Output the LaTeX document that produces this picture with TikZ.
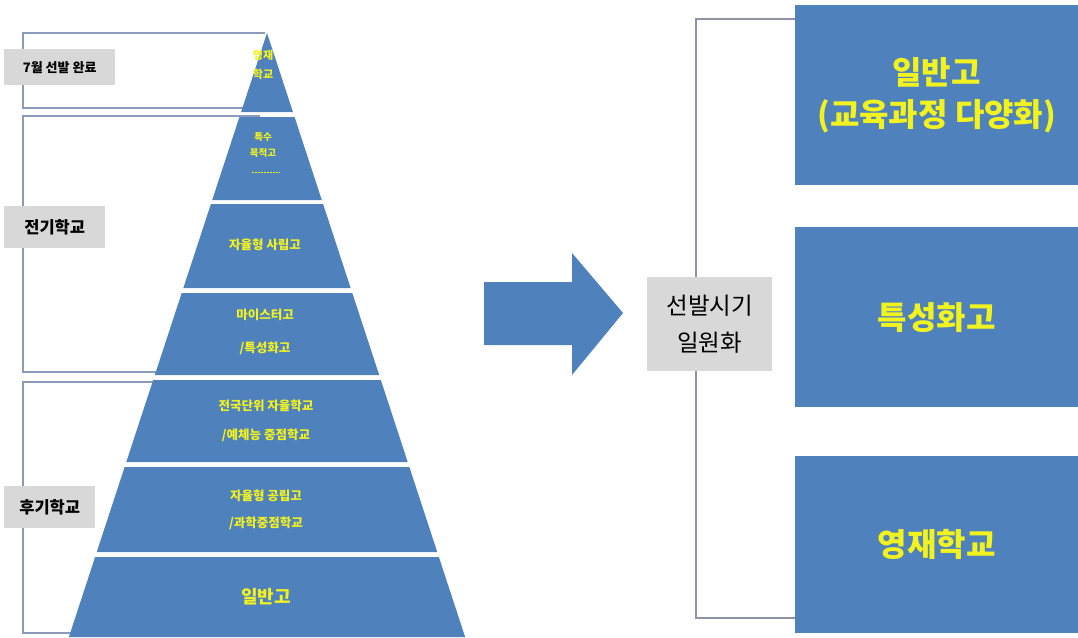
\documentclass[tikz,border=0pt]{standalone}
\usepackage{fontspec}
\setmainfont{Noto Sans CJK KR}
\definecolor{pblue}{RGB}{79,129,189}
\definecolor{tyellow}{RGB}{242,242,30}
\definecolor{lgray}{RGB}{216,216,216}
\definecolor{bline}{RGB}{140,155,185}
\tikzset{
  seg/.style={fill=pblue,draw=none},
  ptext/.style={text=tyellow,font=\bfseries\fontsize{12}{14}\selectfont,align=center,inner sep=0pt},
  lbl/.style={fill=lgray,text=black,font=\bfseries,inner sep=0pt,anchor=north west},
  rbox/.style={fill=pblue,draw=none,anchor=north west,minimum width=283pt,minimum height=180pt,inner sep=0pt,text=tyellow,font=\bfseries\fontsize{32}{42}\selectfont,align=center},
  brk/.style={draw=bline,line width=1.5pt}
}
\begin{document}
\begin{tikzpicture}[x=1pt,y=-1pt]
\useasboundingbox[fill=white] (0,0) rectangle (1078,637);
% left brackets (behind pyramid)
\draw[brk] (265,33) -- (23,33) -- (23,108) -- (260,108);
\draw[brk] (260,116) -- (23,116) -- (23,372) -- (200,372);
\draw[brk] (200,382) -- (23,382) -- (23,633) -- (150,633);
% pyramid
\foreach \a/\b in {33/112,117/200,204/288,293/375,380/462,467/552,557/637}{
  \pgfmathsetmacro{\ha}{0.328*(\a-33)}
  \pgfmathsetmacro{\hb}{0.328*(\b-33)}
  \fill[seg] (267-\ha,\a) -- (267+\ha,\a) -- (267+\hb,\b) -- (267-\hb,\b) -- cycle;
}
% pyramid texts
\node[ptext,font=\bfseries\fontsize{11}{19}\selectfont] (t1) at (263,65) {영재\\학교};
\node[ptext,font=\bfseries\fontsize{9.5}{16}\selectfont] (t2) at (263,145) {특수\\목적고};
\draw[tyellow,line width=0.6pt,dash pattern=on 2pt off 1pt] (252,172) -- (280,172);
\node[ptext,font=\bfseries\fontsize{12.5}{14}\selectfont] (t3) at (265,245) {자율형 사립고};
\node[ptext,font=\bfseries\fontsize{12.5}{33}\selectfont] (t4) at (265,332) {마이스터고\\/특성화고};
\node[ptext,font=\bfseries\fontsize{12.5}{29}\selectfont] (t5) at (266,421) {전국단위 자율학교\\/예체능 중점학교};
\node[ptext,font=\bfseries\fontsize{12.5}{27}\selectfont] (t6) at (266,510) {자율형 공립고\\/과학중점학교};
\node[ptext,font=\bfseries\fontsize{18}{20}\selectfont] (t7) at (266,597) {일반고};
% left labels
\node[lbl,minimum width=111pt,minimum height=36pt,font=\bfseries\fontsize{13}{15}\selectfont] (l1) at (4,49) {7월 선발 완료\hspace{3pt}};
\node[lbl,minimum width=101pt,minimum height=42pt,font=\bfseries\fontsize{16.5}{18}\selectfont] (l2) at (4,206) {전기학교\hspace{18pt}};
\node[lbl,minimum width=91pt,minimum height=42pt,font=\bfseries\fontsize{16.5}{18}\selectfont] (l3) at (4,486) {후기학교\hspace{8pt}};
% big arrow
\fill[pblue] (484,282) -- (572,282) -- (572,253) -- (623,313) -- (572,375) -- (572,345) -- (484,345) -- cycle;
% right bracket
\coordinate (rt) at (696,19);
\coordinate (rb) at (696,618);
\node[rbox] (r1) at (795,5) {일반고\\(교육과정 다양화)};
\node[rbox] (r2) at (795,227) {특성화고};
\node[rbox,minimum height=177pt] (r3) at (795,456) {영재학교};
\draw[brk,draw={rgb,255:red,140;green,148;blue,166}] (r1.west |- rt) -- (rt) -- (rb) -- (r3.west |- rb);
\node[fill=lgray,minimum width=125pt,minimum height=94pt,inner sep=0pt,anchor=north west,align=center,font=\fontsize{23.5}{37}\selectfont] (mid) at (647,277) {선발시기\\일원화};
\end{tikzpicture}
\end{document}
